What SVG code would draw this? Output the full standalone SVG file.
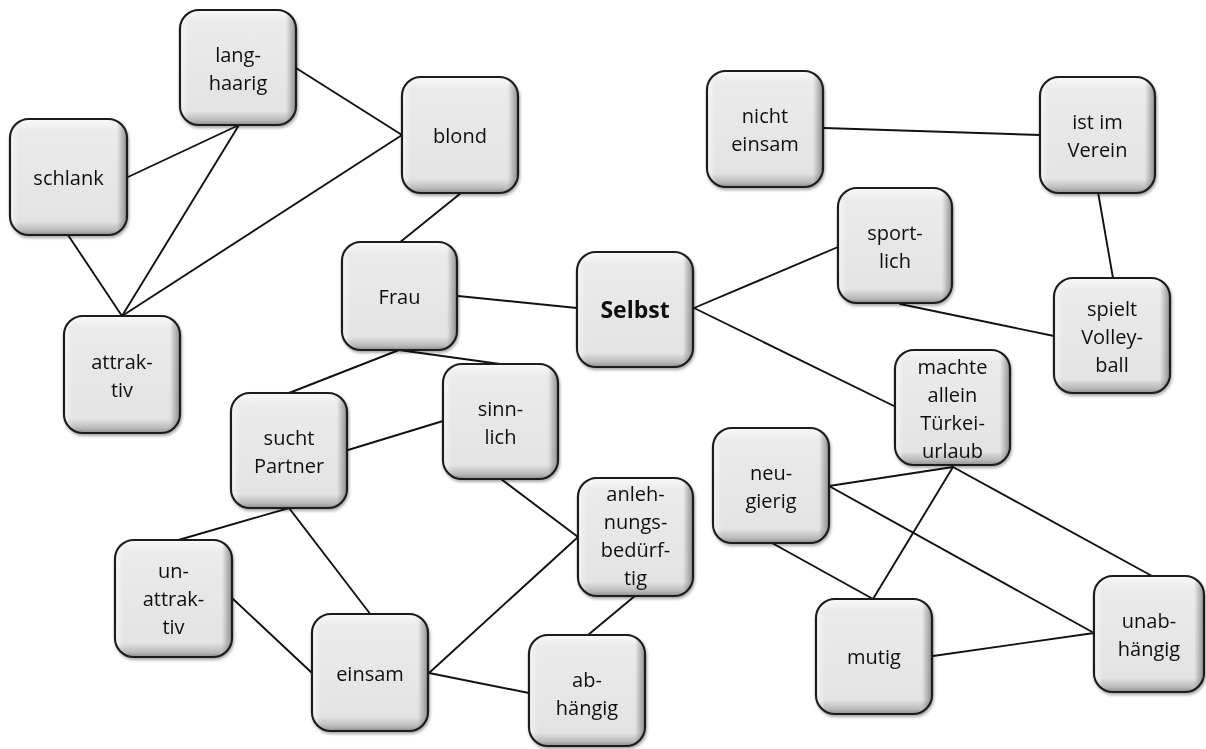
<svg xmlns="http://www.w3.org/2000/svg" width="1206" height="749" viewBox="0 0 1206 749">
<style>
.edge{stroke:#111;stroke-width:1.9;fill:none;stroke-linecap:round}
.box{fill:url(#gv);stroke:#1c1c1c;stroke-width:2.2}
.ov{fill:url(#gh);stroke:none}
.hl{fill:none;stroke:#ffffff;stroke-opacity:0.7;stroke-width:2}
.t{font-family:"Open Sans","Noto Sans",sans-serif;font-size:20px;fill:#111;text-anchor:middle}
.b{font-weight:bold;font-size:23px}
</style>
<defs>
<linearGradient id="gv" x1="0" y1="0" x2="0" y2="1">
<stop offset="0" stop-color="#fafafa"/>
<stop offset="0.1" stop-color="#ebebeb"/>
<stop offset="0.88" stop-color="#e3e3e3"/>
<stop offset="0.96" stop-color="#b9b9b9"/>
<stop offset="1" stop-color="#8c8c8c"/>
</linearGradient>
<linearGradient id="gh" x1="0" y1="0" x2="1" y2="0">
<stop offset="0" stop-color="#ffffff" stop-opacity="0.5"/>
<stop offset="0.07" stop-color="#ffffff" stop-opacity="0"/>
<stop offset="0.92" stop-color="#000000" stop-opacity="0"/>
<stop offset="1" stop-color="#000000" stop-opacity="0.35"/>
</linearGradient>
<filter id="sh" x="-10%" y="-10%" width="125%" height="125%">
<feDropShadow dx="1" dy="2" stdDeviation="1.5" flood-color="#000" flood-opacity="0.35"/>
</filter>
</defs>
<rect width="1206" height="749" fill="#ffffff"/>
<g id="connectors">
<line class="edge" x1="296" y1="68" x2="402" y2="135"/>
<line class="edge" x1="128" y1="177" x2="239" y2="125"/>
<line class="edge" x1="239" y1="125" x2="122" y2="316"/>
<line class="edge" x1="68" y1="235" x2="122" y2="316"/>
<line class="edge" x1="402" y1="135" x2="122" y2="316"/>
<line class="edge" x1="461" y1="193" x2="399" y2="243"/>
<line class="edge" x1="458" y1="296" x2="577" y2="308"/>
<line class="edge" x1="399" y1="350" x2="289" y2="393"/>
<line class="edge" x1="399" y1="350" x2="500" y2="364"/>
<line class="edge" x1="824" y1="128" x2="1040" y2="135"/>
<line class="edge" x1="1098" y1="192" x2="1113" y2="278"/>
<line class="edge" x1="694" y1="308" x2="838" y2="247"/>
<line class="edge" x1="900" y1="304" x2="1054" y2="336"/>
<line class="edge" x1="694" y1="308" x2="896" y2="407"/>
<line class="edge" x1="348" y1="450" x2="443" y2="421"/>
<line class="edge" x1="289" y1="508" x2="175" y2="541"/>
<line class="edge" x1="289" y1="508" x2="371" y2="615"/>
<line class="edge" x1="232" y1="598" x2="312" y2="673"/>
<line class="edge" x1="501" y1="479" x2="578" y2="537"/>
<line class="edge" x1="429" y1="673" x2="578" y2="537"/>
<line class="edge" x1="429" y1="673" x2="529" y2="693"/>
<line class="edge" x1="636" y1="595" x2="588" y2="635"/>
<line class="edge" x1="829" y1="486" x2="953" y2="467"/>
<line class="edge" x1="953" y1="467" x2="873" y2="599"/>
<line class="edge" x1="953" y1="467" x2="1152" y2="576"/>
<line class="edge" x1="829" y1="486" x2="1094" y2="633"/>
<line class="edge" x1="772" y1="543" x2="873" y2="599"/>
<line class="edge" x1="933" y1="656" x2="1094" y2="633"/>
</g>
<g id="n-langhaarig" filter="url(#sh)">
<rect class="box" x="180" y="10" width="116" height="115" rx="19"/>
<rect class="ov" x="181" y="11" width="114" height="113" rx="18"/>
<text class="t" x="238" y="61.5">lang-</text><text class="t" x="238" y="89.5">haarig</text>
</g>
<g id="n-blond" filter="url(#sh)">
<rect class="box" x="402" y="77" width="116" height="116" rx="19"/>
<rect class="ov" x="403" y="78" width="114" height="114" rx="18"/>
<text class="t" x="460" y="143">blond</text>
</g>
<g id="n-schlank" filter="url(#sh)">
<rect class="box" x="10" y="119" width="117" height="116" rx="19"/>
<rect class="ov" x="11" y="120" width="115" height="114" rx="18"/>
<text class="t" x="68.5" y="185">schlank</text>
</g>
<g id="n-attraktiv" filter="url(#sh)">
<rect class="box" x="64" y="316" width="116" height="117" rx="19"/>
<rect class="ov" x="65" y="317" width="114" height="115" rx="18"/>
<text class="t" x="122" y="368.5">attrak-</text><text class="t" x="122" y="396.5">tiv</text>
</g>
<g id="n-frau" filter="url(#sh)">
<rect class="box" x="342" y="242" width="115" height="108" rx="19"/>
<rect class="ov" x="343" y="243" width="113" height="106" rx="18"/>
<text class="t" x="399.5" y="304">Frau</text>
</g>
<g id="n-nichteinsam" filter="url(#sh)">
<rect class="box" x="707" y="71" width="116" height="116" rx="19"/>
<rect class="ov" x="708" y="72" width="114" height="114" rx="18"/>
<text class="t" x="765" y="123">nicht</text><text class="t" x="765" y="151">einsam</text>
</g>
<g id="n-verein" filter="url(#sh)">
<rect class="box" x="1040" y="77" width="115" height="116" rx="19"/>
<rect class="ov" x="1041" y="78" width="113" height="114" rx="18"/>
<text class="t" x="1097.5" y="129">ist im</text><text class="t" x="1097.5" y="157">Verein</text>
</g>
<g id="n-sportlich" filter="url(#sh)">
<rect class="box" x="838" y="188" width="114" height="115" rx="19"/>
<rect class="ov" x="839" y="189" width="112" height="113" rx="18"/>
<text class="t" x="895" y="239.5">sport-</text><text class="t" x="895" y="267.5">lich</text>
</g>
<g id="n-selbst" filter="url(#sh)">
<rect class="box" x="577" y="252" width="116" height="115" rx="19"/>
<rect class="ov" x="578" y="253" width="114" height="113" rx="18"/>
<text class="t b" x="635" y="317.5">Selbst</text>
</g>
<g id="n-volleyball" filter="url(#sh)">
<rect class="box" x="1054" y="278" width="116" height="115" rx="19"/>
<rect class="ov" x="1055" y="279" width="114" height="113" rx="18"/>
<text class="t" x="1112" y="315.5">spielt</text><text class="t" x="1112" y="343.5">Volley-</text><text class="t" x="1112" y="371.5">ball</text>
</g>
<g id="n-tuerkei" filter="url(#sh)">
<rect class="box" x="895" y="350" width="115" height="115" rx="19"/>
<rect class="ov" x="896" y="351" width="113" height="113" rx="18"/>
<text class="t" x="952.5" y="373.5">machte</text><text class="t" x="952.5" y="401.5">allein</text><text class="t" x="952.5" y="429.5">Türkei-</text><text class="t" x="952.5" y="457.5">urlaub</text>
</g>
<g id="n-suchtpartner" filter="url(#sh)">
<rect class="box" x="231" y="393" width="116" height="115" rx="19"/>
<rect class="ov" x="232" y="394" width="114" height="113" rx="18"/>
<text class="t" x="289" y="444.5">sucht</text><text class="t" x="289" y="472.5">Partner</text>
</g>
<g id="n-sinnlich" filter="url(#sh)">
<rect class="box" x="443" y="364" width="115" height="115" rx="19"/>
<rect class="ov" x="444" y="365" width="113" height="113" rx="18"/>
<text class="t" x="500.5" y="415.5">sinn-</text><text class="t" x="500.5" y="443.5">lich</text>
</g>
<g id="n-anlehnung" filter="url(#sh)">
<rect class="box" x="578" y="478" width="115" height="118" rx="19"/>
<rect class="ov" x="579" y="479" width="113" height="116" rx="18"/>
<text class="t" x="635.5" y="501">anleh-</text><text class="t" x="635.5" y="529">nungs-</text><text class="t" x="635.5" y="557">bedürf-</text><text class="t" x="635.5" y="585">tig</text>
</g>
<g id="n-unattraktiv" filter="url(#sh)">
<rect class="box" x="115" y="540" width="117" height="117" rx="19"/>
<rect class="ov" x="116" y="541" width="115" height="115" rx="18"/>
<text class="t" x="173.5" y="578">un-</text><text class="t" x="173.5" y="606">attrak-</text><text class="t" x="173.5" y="634">tiv</text>
</g>
<g id="n-einsam" filter="url(#sh)">
<rect class="box" x="312" y="614" width="116" height="117" rx="19"/>
<rect class="ov" x="313" y="615" width="114" height="115" rx="18"/>
<text class="t" x="370" y="680.5">einsam</text>
</g>
<g id="n-abhaengig" filter="url(#sh)">
<rect class="box" x="529" y="635" width="116" height="111" rx="19"/>
<rect class="ov" x="530" y="636" width="114" height="109" rx="18"/>
<text class="t" x="587" y="687">ab-</text><text class="t" x="587" y="715">hängig</text>
</g>
<g id="n-neugierig" filter="url(#sh)">
<rect class="box" x="713" y="428" width="116" height="115" rx="19"/>
<rect class="ov" x="714" y="429" width="114" height="113" rx="18"/>
<text class="t" x="771" y="479.5">neu-</text><text class="t" x="771" y="507.5">gierig</text>
</g>
<g id="n-mutig" filter="url(#sh)">
<rect class="box" x="816" y="599" width="116" height="115" rx="19"/>
<rect class="ov" x="817" y="600" width="114" height="113" rx="18"/>
<text class="t" x="874" y="664">mutig</text>
</g>
<g id="n-unabhaengig" filter="url(#sh)">
<rect class="box" x="1094" y="576" width="110" height="116" rx="19"/>
<rect class="ov" x="1095" y="577" width="108" height="114" rx="18"/>
<text class="t" x="1149" y="628">unab-</text><text class="t" x="1149" y="656">hängig</text>
</g>
</svg>
